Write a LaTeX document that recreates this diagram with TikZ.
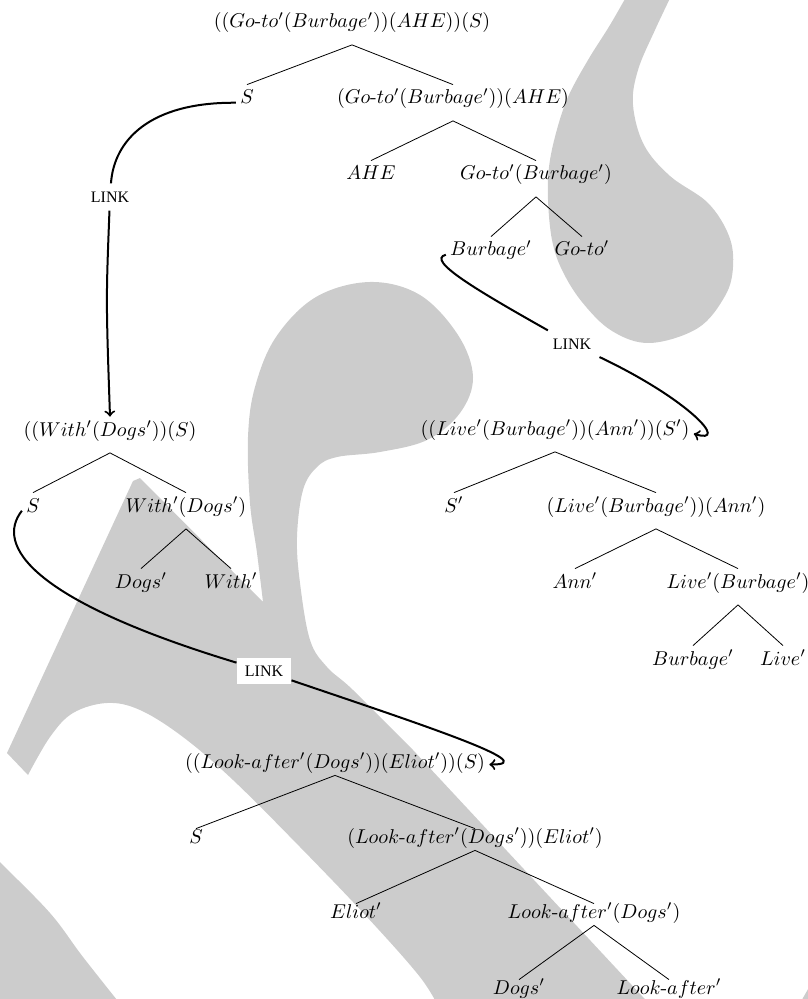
\documentclass[tikz,border=0pt]{standalone}
\usepackage{amsmath}
\usepackage{fontspec}
\usepackage{tikz}
\newfontfamily\linkfont{Liberation Serif}
\newcommand{\hy}{\mbox{-}}
\definecolor{wmark}{gray}{0.8}
\tikzset{
  tn/.style={anchor=base, inner sep=2pt, text height=7.5pt, text depth=6.25pt},
  tnlow/.style={tn, text height=5pt, text depth=1.5pt},
  linkbox/.style={fill=white, inner sep=4pt, font=\linkfont\fontsize{8}{9}\selectfont},
  linkline/.style={line width=1pt},
}
\begin{document}
\begin{tikzpicture}[x=0.5pt, y=-0.5pt, thin]
        \useasboundingbox (0,0) rectangle (807,999);
        % grey shapes behind the trees
        \fill[wmark] plot[smooth, tension=0.6] coordinates {(630,-10) (610,25) (588,60) (568,97) (556,133) (549,167) (548,200) (552,240) (562,270) (582,302) (612,331) (650,343) (698,328) (725,296) (733,267) (729,236) (708,203) (670,176) (644,145) (633,105) (638,70) (655,30) (674,-10)} -- cycle;
        \fill[wmark] (133,481) -- (140,478) -- (263,602)
            -- plot[smooth, tension=0.6] coordinates {(263,602) (257,553) (250,503) (248,437) (255,387) (276,337) (316,297) (370,282) (420,295) (458,335) (473,377) (460,413) (427,440) (380,452) (337,457) (317,467) (303,490) (297,537) (300,583) (310,640) (327,667) (353,690) (413,750)}
            -- (655,1010) -- (440,1010)
            -- plot[smooth, tension=0.6] coordinates {(440,1010) (420,977) (367,917) (300,847) (233,780) (183,737) (140,710) (107,703) (73,713) (50,737) (28,775)}
            -- (7,753) -- cycle;
        \fill[wmark] plot[smooth, tension=0.6] coordinates {(-10,850) (0,862) (50,913) (83,957) (125,1010)} -- (-10,1010) -- cycle;
        \fill[wmark] (796,1010) -- (815,977) -- (815,1010) -- cycle;

        % first tree
        \node[tn] (r1) at (352,28) {$((Go\hy to'(Burbage'))(AHE))(S)$};
        \node[tn] (s1) at (247,104) {$S$};
        \node[tn] (c1) at (453,104) {$(Go\hy to'(Burbage'))(AHE)$};
        \node[tn] (ahe) at (371,180) {$AHE$};
        \node[tn] (gb) at (536,180) {$Go\hy to'(Burbage')$};
        \node[tn] (bu1) at (491,256) {$Burbage'$};
        \node[tn] (go) at (582,256) {$Go\hy to'$};
        \draw (s1.north) -- (r1.south) -- (c1.north);
        \draw (ahe.north) -- (c1.south) -- (gb.north);
        \draw (bu1.north) -- (gb.south) -- (go.north);

        % second tree
        \node[tn] (r2) at (110,436) {$((With'(Dogs'))(S)$};
        \node[tn] (s2) at (33,512) {$S$};
        \node[tn] (wd) at (186,512) {$With'(Dogs')$};
        \node[tn] (dg2) at (141,588) {$Dogs'$};
        \node[tn] (wi) at (231,588) {$With'$};
        \draw (s2.north) -- (r2.south) -- (wd.north);
        \draw (dg2.north) -- (wd.south) -- (wi.north);

        % third tree
        \node[tn] (r3) at (555,435) {$((Live'(Burbage'))(Ann'))(S')$};
        \node[tn] (sp) at (454,512) {$S'$};
        \node[tn] (la) at (656,512) {$(Live'(Burbage'))(Ann')$};
        \node[tn] (an) at (575,588) {$Ann'$};
        \node[tn] (lb) at (738,588) {$Live'(Burbage')$};
        \node[tn] (bu3) at (693,665) {$Burbage'$};
        \node[tn] (li) at (783,665) {$Live'$};
        \draw (sp.north) -- (r3.south) -- (la.north);
        \draw (an.north) -- (la.south) -- (lb.north);
        \draw (bu3.north) -- (lb.south) -- (li.north);

        % fourth tree
        \node[tnlow] (r4) at (335,768) {$((Look\hy after'(Dogs'))(Eliot'))(S)$};
        \node[tnlow] (s4) at (196,843) {$S$};
        \node[tnlow] (le) at (475,843) {$(Look\hy after'(Dogs'))(Eliot')$};
        \node[tnlow] (el) at (356,918) {$Eliot'$};
        \node[tnlow] (ld) at (594,918) {$Look\hy after'(Dogs')$};
        \node[tnlow] (dg4) at (519,994) {$Dogs'$};
        \node[tnlow] (lo) at (669,994) {$Look\hy after'$};
        \draw (s4.north) -- (r4.south) -- (le.north);
        \draw (el.north) -- (le.south) -- (ld.north);
        \draw (dg4.north) -- (ld.south) -- (lo.north);

        % links
        \node[linkbox] (l1) at (110,197) {LINK};
        \node[linkbox] (l2) at (572,344) {LINK};
        \node[linkbox] (l3) at (264,671) {LINK};
        \draw[linkline] (s1.west) .. controls (150,102) and (114,140) .. (l1);
        \draw[linkline, ->] (l1) .. controls (106,300) .. (r2.north);
        \draw[linkline] (bu1.west) .. controls (425,260) and (480,292) .. (l2);
        \draw[linkline, ->] (l2) .. controls (690,400) and (730,445) .. (r3.east);
        \draw[linkline] (s2.west) .. controls (-5,545) and (30,600) .. (l3);
        \draw[linkline, ->] (l3) .. controls (420,724) and (545,765) .. (r4.east);
    \end{tikzpicture}
\end{document}
